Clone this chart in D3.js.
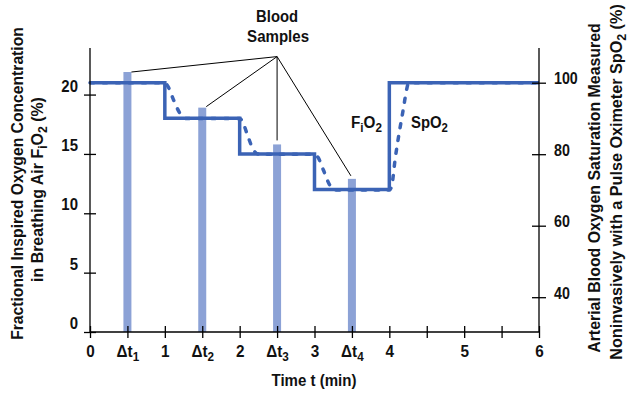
<!DOCTYPE html>
<html>
<head>
<meta charset="utf-8">
<script src="https://cdn.jsdelivr.net/npm/d3@7"></script>
<style>
  body { margin: 0; background: #fff; }
  svg text { font-family: "Liberation Sans", Arial, sans-serif; font-weight: bold; fill: #111; }
</style>
</head>
<body>
<div id="chart"></div>
<script>
// x axis (minutes)
var xTicks = [0, 0.5, 1, 1.5, 2, 2.5, 3, 3.5, 4, 4.5, 5, 5.5, 6];
var xLabels = ["0", "Δt1", "1", "Δt2", "2", "Δt3", "3", "Δt4", "4", "", "5", "", "6"];
var leftTicks = [0, 5, 10, 15, 20];
var rightTicks = [40, 60, 80, 100];

// blood samples
var sampleT = [0.5, 1.5, 2.5, 3.5];
var sampleVal = [21.9, 18.9, 15.8, 12.9];

// FiO2 steps (left axis, %)
var fio2T = [0, 1, 2, 3, 4, 6];
var fio2V = [21, 18, 15, 12, 21, 21];

// SpO2 measured (right axis, %)
var spo2T = [0, 1.0, 1.04, 1.12, 1.2, 1.28, 2.0, 2.04, 2.11, 2.19, 2.26, 3.0, 3.05, 3.12, 3.2, 3.26, 4.0, 4.03, 4.08, 4.14, 4.19, 4.23, 4.26, 6];
var spo2V = [100, 100, 99, 95, 91.5, 90, 90, 89, 85, 81, 80, 80, 79, 75.5, 71.5, 70, 70, 71, 79, 87, 93, 98, 100, 100];

var W = 629, H = 394;
var lineBlue = "#3b63b5", barBlue = "#8ca2d6";

var svg = d3.select("#chart").append("svg")
    .attr("width", W)
    .attr("height", H);

var x = d3.scaleLinear().domain([0, 6]).range([90, 539]);
var yL = d3.scaleLinear().domain([0, 21]).range([332, 82.7]);
var yR = d3.scaleLinear().domain([100 - (332 - 82.7) / 3.575, 100]).range([332, 82.7]);
var axisTop = 48;

// squeeze a text horizontally (the original uses a condensed face)
function squeeze(sel, s) {
  sel.each(function(){
    var t = d3.select(this);
    var tx = +t.attr("x") || 0, ty = +t.attr("y") || 0;
    t.attr("x", 0).attr("y", 0)
     .attr("transform", "translate(" + tx + "," + ty + ") scale(" + s + ",1)");
  });
}
function fitTo(sel, target) {
  var w = sel.node().getComputedTextLength();
  squeeze(sel, target / w);
}

// bars
svg.selectAll("rect.sample")
  .data(sampleT)
  .enter().append("rect")
  .attr("class", "sample")
  .attr("x", function(d){ return x(d) - 4; })
  .attr("width", 8)
  .attr("y", function(d, i){ return yL(sampleVal[i]); })
  .attr("height", function(d, i){ return yL(0) - yL(sampleVal[i]); })
  .style("fill", barBlue);

// spo2 dashed (under the step line)
var spo2 = spo2T.map(function(t, i){ return [t, spo2V[i]]; });
svg.append("path")
  .datum(spo2)
  .attr("d", d3.line().x(function(d){ return x(d[0]); }).y(function(d){ return yR(d[1]); }).curve(d3.curveMonotoneX))
  .style("fill", "none")
  .style("stroke", lineBlue)
  .style("stroke-width", 3.5)
  .style("stroke-linecap", "round")
  .style("stroke-dasharray", "4,9");

// fio2 step line
var fio2 = fio2T.map(function(t, i){ return [t, fio2V[i]]; });
svg.append("path")
  .datum(fio2)
  .attr("d", d3.line().x(function(d){ return x(d[0]); }).y(function(d){ return yL(d[1]); }).curve(d3.curveStepAfter))
  .style("fill", "none")
  .style("stroke", lineBlue)
  .style("stroke-width", 3.5);

// axes
function styleAxis(g, lo, hi, vertical) {
  g.select(".domain").remove();
  g.selectAll(".tick line").style("stroke", "#000").style("stroke-width", 1.3);
  if (vertical) g.selectAll(".tick line").attr("x1", lo).attr("x2", hi);
  else g.selectAll(".tick line").attr("y1", lo).attr("y2", hi);
  g.selectAll(".tick text").style("font-size", "17px").style("fill", "#111");
}

var gL = svg.append("g").attr("transform", "translate(" + x(0) + ",0)")
  .call(d3.axisLeft(yL).tickValues(leftTicks).tickFormat(d3.format("d")).tickSize(6));
styleAxis(gL, -6, 6, true);
gL.selectAll(".tick text").attr("x", -12).attr("dy", "-0.2em");
squeeze(gL.selectAll(".tick text"), 0.88);

var gR = svg.append("g").attr("transform", "translate(" + x(6) + ",0)")
  .call(d3.axisRight(yR).tickValues(rightTicks).tickFormat(d3.format("d")).tickSize(6));
styleAxis(gR, -7, 7, true);
gR.selectAll(".tick text").attr("x", 15).attr("dy", "0.05em");
squeeze(gR.selectAll(".tick text"), 0.84);

var gB = svg.append("g").attr("transform", "translate(0," + yL(0) + ")")
  .call(d3.axisBottom(x).tickValues(xTicks).tickFormat("").tickSize(6));
styleAxis(gB, -6, 6, false);

// x tick labels with subscripts
gB.selectAll(".tick").each(function(d, i){
  var lab = xLabels[i];
  if (!lab) return;
  var t = d3.select(this).append("text")
    .attr("y", 25)
    .attr("text-anchor", "middle")
    .style("font-size", "17px");
  if (lab.length > 1) {
    t.append("tspan").text(lab.slice(0, 2));
    t.append("tspan").attr("dy", 4).style("font-size", "13px").text(lab.slice(2));
  } else {
    t.text(lab);
  }
  squeeze(t, 0.9);
});

// axis lines
svg.append("line").attr("x1", x(0)).attr("x2", x(0)).attr("y1", axisTop).attr("y2", yL(0))
  .style("stroke", "#000").style("stroke-width", 1.3);
svg.append("line").attr("x1", x(6)).attr("x2", x(6)).attr("y1", axisTop).attr("y2", yL(0))
  .style("stroke", "#000").style("stroke-width", 1.3);
svg.append("line").attr("x1", x(0)).attr("x2", x(6)).attr("y1", yL(0)).attr("y2", yL(0))
  .style("stroke", "#000").style("stroke-width", 1.3);

// callout lines
var apex = [x(2.5), yL(23.2)];
var calloutDx = [4, 4, 0, -1];
var calloutDy = [0, -1, -4, -3];
svg.selectAll("line.callout")
  .data(sampleT)
  .enter().append("line")
  .attr("class", "callout")
  .attr("x1", apex[0]).attr("y1", apex[1])
  .attr("x2", function(d, i){ return x(d) + calloutDx[i]; })
  .attr("y2", function(d, i){ return yL(sampleVal[i]) + calloutDy[i]; })
  .style("stroke", "#000")
  .style("stroke-width", 1);

var b1 = svg.append("text").attr("x", x(2.5)).attr("y", 22).attr("text-anchor", "middle")
  .style("font-size", "17px").text("Blood");
fitTo(b1, 42);
var b2 = svg.append("text").attr("x", x(2.5) + 1).attr("y", 42).attr("text-anchor", "middle")
  .style("font-size", "17px").text("Samples");
fitTo(b2, 62);

// series labels
function chem(xp, yp, size, parts) {
  var t = svg.append("text").attr("x", xp).attr("y", yp).style("font-size", size);
  parts.forEach(function(p){
    var s = t.append("tspan").text(p[0]);
    if (p[1]) s.attr("dy", p[1]);
    if (p[2]) s.style("font-size", p[2]);
  });
  return t;
}
fitTo(chem(351, 128, "17px", [["F"], ["i", 4, "13px"], ["O", -4], ["2", 4, "13px"]]), 31);
fitTo(chem(411, 128, "17px", [["SpO"], ["2", 4, "13px"]]), 37);

// axis titles
var tt = svg.append("text").attr("x", 314).attr("y", 386).attr("text-anchor", "middle")
  .style("font-size", "17px").text("Time t (min)");
fitTo(tt, 85);

function vtitle(cx, cy, len, parts) {
  var t = svg.append("text")
    .attr("text-anchor", "middle")
    .style("font-size", "17px");
  parts.forEach(function(p){
    var s = t.append("tspan").text(p[0]);
    if (p[1]) s.attr("dy", p[1]);
    if (p[2]) s.style("font-size", p[2]);
  });
  var w = t.node().getComputedTextLength();
  t.attr("transform", "translate(" + cx + "," + cy + ") rotate(-90) scale(" + (len / w) + ",1)");
}
vtitle(23, 183.5, 313, [["Fractional Inspired Oxygen Concentration"]]);
vtitle(43, 189.5, 185, [["in Breathing Air  F"], ["i", 4, "13px"], ["O", -4], ["2", 4, "13px"], [" (%)", -4]]);
vtitle(600, 188, 330, [["Arterial Blood Oxygen Saturation Measured"]]);
vtitle(622, 182, 356, [["Noninvasively with a Pulse Oximeter  SpO"], ["2", 4, "13px"], [" (%)", -4]]);
</script>
</body>
</html>
